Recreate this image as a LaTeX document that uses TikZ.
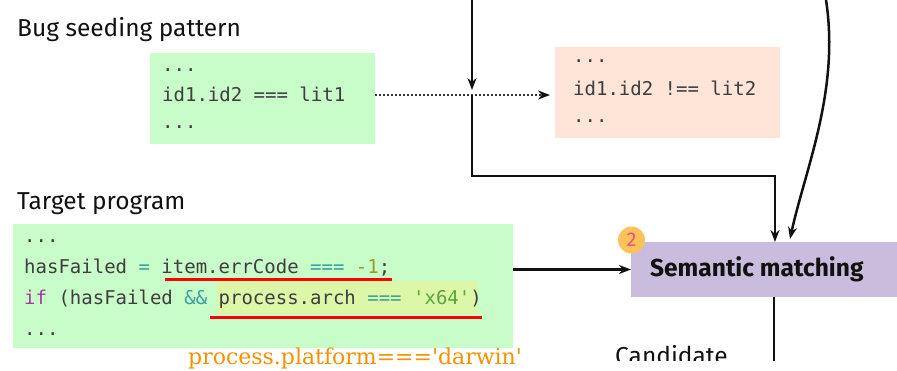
\documentclass[tikz,border=0pt]{standalone}
\usepackage{fontspec}
\setmainfont{Fira Sans}
\newfontfamily\codefont{DejaVu Sans Mono}[Ligatures=TeXOff]
\newfontfamily\notefont{DejaVu Serif}[Ligatures=TeXOff]
\usetikzlibrary{arrows.meta,calc}

\definecolor{ink}{HTML}{111111}
\definecolor{patgreen}{HTML}{C8FCC8}
\definecolor{mutpeach}{HTML}{FFE4D8}
\definecolor{semviolet}{HTML}{C9BCDC}
\definecolor{hlgreen}{HTML}{DDF7A8}
\definecolor{codefg}{HTML}{3E3E3E}
\definecolor{codeop}{HTML}{3AA0A0}
\definecolor{codenum}{HTML}{9A9A2A}
\definecolor{codekw}{HTML}{A23EA0}
\definecolor{codestr}{HTML}{5AA53C}
\definecolor{markred}{HTML}{FF0000}
\definecolor{noteorange}{HTML}{F39200}
\definecolor{badgefill}{HTML}{FDC25A}
\definecolor{badgenum}{HTML}{F0507A}
\definecolor{dotgray}{HTML}{333333}

\begin{document}
\begin{tikzpicture}[x=1pt,y=-1pt,
  panel/.style={draw=none, inner sep=0pt, outer sep=0pt, anchor=north west},
  code/.style={anchor=base west, inner sep=0pt, font=\codefont\fontsize{19}{19}\selectfont, text=codefg},
  label/.style={anchor=base west, inner sep=0pt, font=\fontsize{24.5}{24.5}\selectfont, text=ink},
  flow/.style={line width=2.5pt, draw=ink},
  arr/.style={flow, -{Stealth[length=12pt,width=9pt]}},
  dotarr/.style={line width=2pt, draw=dotgray, dotted, -{Stealth[length=12pt,width=9pt,color=ink]}},
  underl/.style={line width=3pt, draw=markred}]
\useasboundingbox (0,0) rectangle (897,370);

% --- bug seeding pattern ---
\node[label] (lpat) at (17,36) {Bug seeding pattern};
\node[panel, fill=patgreen, minimum width=225pt, minimum height=91pt] (pat) at (150,53) {};
\node[code] (p1) at (162,71) {...};
\node[code] (p2) at (162,101) {id1.id2 === lit1};
\node[code] (p3) at (162,128) {...};

% --- mutated pattern ---
\node[panel, fill=mutpeach, minimum width=225pt, minimum height=91pt] (mut) at (555,47) {};
\node[code] (m1) at (573,62) {...};
\node[code] (m2) at (573,95) {id1.id2 !== lit2};
\node[code] (m3) at (573,122) {...};

% --- target program ---
\node[label] (ltgt) at (17,209) {Target program};
\node[panel, fill=patgreen, minimum width=500pt, minimum height=124pt] (tgt) at (13,224) {};
\fill[hlgreen] (217,281) rectangle (478,314);
\node[code] (t1) at (24,242) {...};
\node[code] (t2) at (24,273) {hasFailed {\color{codeop}=} item.errCode {\color{codeop}===} {\color{codenum}-1};};
\node[code] (t3) at (24,304) {{\color{codekw}if} (hasFailed {\color{codeop}\&\&} process.arch {\color{codeop}===} {\color{codestr}'x64'})};
\node[code] (t4) at (24,335) {...};
\draw[underl] (165,279) -- (392,279);
\draw[underl] (210,317) -- (482,317);

% --- semantic matching ---
\node[panel, fill=semviolet, minimum width=280pt, minimum height=55pt] (sem) at (631,242) {};
\node[label, font=\bfseries\fontsize{24.5}{24.5}\selectfont] (semtxt) at (650,276) {Semantic matching};
\node[circle, fill=badgefill, minimum size=27pt, inner sep=0pt, font=\fontsize{20}{20}\selectfont, text=badgenum] (badge) at (631.5,240) {2};

% --- connectors ---
\coordinate (mid) at (0,95);
\draw[dotarr, shorten >=5pt] (pat.east |- mid) -- (mut.west |- mid);

\coordinate (srcA) at (472,0);
\coordinate (cross) at (472,95);
\coordinate (semin) at ($(sem.north west)+(144,0)$);
\coordinate (bend) at (semin |- 0,176);
\draw[arr, shorten >=5pt] (srcA) -- (cross);
\draw[arr] (cross) |- (bend) -- (semin);

\coordinate (srcB) at (826,0);
\coordinate (semin2) at ($(sem.north west)+(159,-3)$);
\draw[arr] (srcB) .. controls (840,90) and (805,170) .. (semin2);

\draw[arr] (tgt.east |- sem.west) -- (sem.west);

\begin{scope}
  \clip (0,0) rectangle (897,360);
  \coordinate (semout) at ($(sem.south west)+(143,0)$);
  \coordinate (down) at (semout |- 0,380);
  \draw[flow] (semout) -- (down);
  \node[label] (cand) at (615,364) {Candidate};
\end{scope}

% --- annotation ---
\node[anchor=base west, inner sep=0pt, font=\notefont\fontsize{22}{22}\selectfont, text=noteorange] (note) at (188,364) {process.platform==='darwin'};
\end{tikzpicture}
\end{document}
